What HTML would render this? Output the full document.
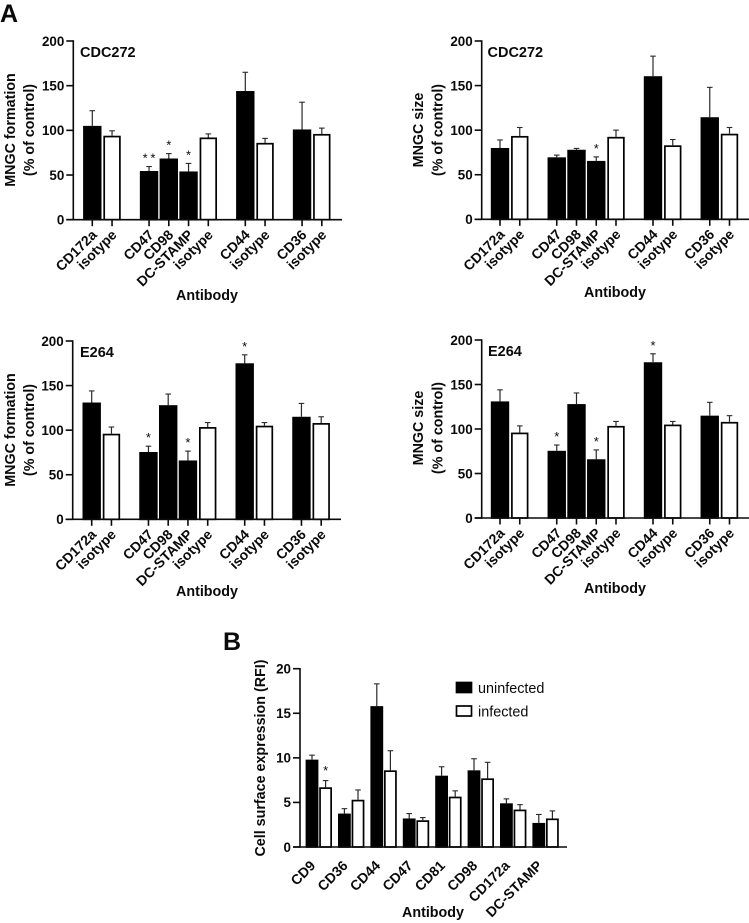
<!DOCTYPE html>
<html lang="en">
<head>
<meta charset="utf-8">
<title>MNGC formation and cell surface expression charts</title>
<style>
  html, body { margin: 0; padding: 0; background: #fff; }
  body { width: 749px; height: 923px; overflow: hidden; }
  svg { display: block; font-family: "Liberation Sans", Arial, sans-serif; }
  text { fill: #0a0a0a; }
  .tick { font-size: 13.4px; font-weight: bold; }
  .x-tick { font-size: 14px; font-weight: bold; }
  .axis-title { font-size: 14.3px; font-weight: bold; }
  .panel-title { font-size: 14.5px; font-weight: bold; }
  .panel-letter { font-size: 25px; font-weight: bold; }
  .star { font-size: 13px; }
  .legend-text { font-size: 14.4px; }
</style>
</head>
<body>
<svg id="figure" xmlns="http://www.w3.org/2000/svg" width="749" height="923" viewBox="0 0 749 923">
  <text class="panel-letter" x="0" y="22">A</text>
  <text class="panel-letter" x="223" y="650">B</text>
</svg>
<script>
const svgNS = 'http://www.w3.org/2000/svg';
const figure = document.getElementById('figure');

/* ---------- Panel A data ---------- */
const categoriesA = ['CD172a', 'isotype', 'CD47', 'CD98', 'DC-STAMP', 'isotype', 'CD44', 'isotype', 'CD36', 'isotype'];
const groupIndexA = [0, 0, 1, 1, 1, 1, 2, 2, 3, 3];
const yTicksA = [0, 50, 100, 150, 200];

const formationCdc272 = [105, 94, 54.5, 68.5, 54, 92, 144, 86, 101, 96];
const formationCdc272Err = [122, 99.5, 59.5, 74, 63, 96, 165, 91, 131.5, 102.5];
const formationCdc272Stars = ['', '', '**', '*', '*', '', '', '', '', ''];

const sizeCdc272 = [80, 93.5, 69.5, 78, 65.5, 92.5, 160.5, 83, 114.5, 96];
const sizeCdc272Err = [89, 103, 72, 79.5, 70, 100, 183, 89.5, 148, 103];
const sizeCdc272Stars = ['', '', '', '', '*', '', '', '', '', ''];

const formationE264 = [131, 96, 75.5, 128, 66, 103.5, 175, 105, 115, 108];
const formationE264Err = [144, 103.5, 82, 140.5, 76.5, 108.5, 184.5, 108.5, 130, 115];
const formationE264Stars = ['', '', '*', '', '*', '', '*', '', '', ''];

const sizeE264 = [131, 96, 75.5, 128, 66, 103.5, 175, 105, 115, 108];
const sizeE264Err = [144, 103.5, 82, 140.5, 76.5, 108.5, 184.5, 108.5, 130, 115];
const sizeE264Stars = ['', '', '*', '', '*', '', '*', '', '', ''];

/* ---------- Panel B data ---------- */
const categoriesB = ['CD9', 'CD36', 'CD44', 'CD47', 'CD81', 'CD98', 'CD172a', 'DC-STAMP'];
const yTicksB = [0, 5, 10, 15, 20];
const uninfected = [9.8, 3.75, 15.8, 3.2, 8, 8.6, 4.9, 2.7];
const uninfectedErr = [10.3, 4.3, 18.3, 3.75, 9, 9.9, 5.4, 3.65];
const infected = [6.7, 5.3, 8.6, 3, 5.65, 7.7, 4.2, 3.2];
const infectedErr = [7.45, 6.4, 10.8, 3.3, 6.3, 9.5, 4.75, 4.05];
const infectedStars = ['*', '', '', '', '', '', '', ''];
const legendLabels = ['uninfected', 'infected'];

/* ---------- Drawing primitives ---------- */
function svgEl(tag, attrs, parent, content) {
  const el = document.createElementNS(svgNS, tag);
  Object.keys(attrs).forEach(function (k) { el.setAttribute(k, attrs[k]); });
  if (content !== undefined) el.textContent = content;
  parent.appendChild(el);
  return el;
}

function drawAxes(g, frame, ticks, yScale) {
  const yAxis = svgEl('line', { x1: frame.axisX, x2: frame.axisX, y1: frame.yTop - 0.7, y2: frame.yBase + 0.7, stroke: '#0a0a0a', 'stroke-width': 1.6 }, g);
  
  
  const xAxis = svgEl('line', { x1: frame.axisX - 7, x2: frame.axisEnd, y1: frame.yBase, y2: frame.yBase, stroke: '#0a0a0a', 'stroke-width': 1.6 }, g);
  
  
  ticks.forEach(function (t) {
    const y = yScale(t);
    const mark = svgEl('line', { x1: frame.axisX - 7, x2: frame.axisX, y1: y, y2: y, stroke: '#0a0a0a', 'stroke-width': 1.6 }, g);
    
    
    const label = svgEl('text', { class: 'tick', x: frame.axisX - 9, y: y + 4.8, 'text-anchor': 'end' }, g, String(t));
    
    
  });
}

function drawBar(g, cx, width, value, errTop, filled, yScale, frame, name) {
  const stem = svgEl('line', { x1: cx, x2: cx, y1: yScale(value), y2: yScale(errTop), stroke: '#2a2a2a', 'stroke-width': 1.2 }, g);
  
  
  const cap = svgEl('line', { x1: cx - 2.8, x2: cx + 2.8, y1: yScale(errTop), y2: yScale(errTop), stroke: '#2a2a2a', 'stroke-width': 1.1 }, g);
  
  
  const sw = 1.7;
  const top = yScale(value) + sw / 2;
  const rect = svgEl('rect', {
    x: cx - width / 2 + sw / 2,
    y: top,
    width: width - sw,
    height: frame.yBase - top,
    fill: filled ? '#000' : '#fff',
    stroke: '#000',
    'stroke-width': sw
  }, g);
  
  
}

function drawStar(g, cx, errTop, star, yScale, lift) {
  if (!star) return;
  const text = svgEl('text', { class: 'star', x: cx, y: yScale(errTop) - lift, 'text-anchor': 'middle' }, g, star.split('').join('\u2009'));
  
  
}

function drawXTickMark(g, cx, frame) {
  const mark = svgEl('line', { x1: cx, x2: cx, y1: frame.yBase, y2: frame.yBase + 6.5, stroke: '#0a0a0a', 'stroke-width': 1.6 }, g);
  
  
}

function drawXLabel(g, cx, frame, label, dx, dy) {
  const ax = cx + dx;
  const ay = frame.yBase + dy;
  const text = svgEl('text', { class: 'x-tick', x: ax, y: ay, 'text-anchor': 'end', transform: 'rotate(-45 ' + ax + ' ' + ay + ')' }, g, label);
  
  
}

function drawYTitle(g, x, y, label, name) {
  const text = svgEl('text', { class: 'axis-title', x: x, y: y, 'text-anchor': 'middle', transform: 'rotate(-90 ' + x + ' ' + y + ')' }, g, label);
  
  
}

/* ---------- Panel A ---------- */
function drawPanelA(frame, values, errs, stars, yLine1, yLine2, title, key) {
  const g = svgEl('g', {}, figure);
  
  
  const yScale = function (v) { return frame.yBase - (v / 200) * (frame.yBase - frame.yTop); };
  const xScale = function (i) { return frame.axisX + frame.lead + 19.75 * i + 17.25 * groupIndexA[i]; };
  values.forEach(function (v, i) {
    const cx = xScale(i);
    const filled = categoriesA[i] !== 'isotype';
    drawBar(g, cx, filled ? 18.4 : 17.4, v, errs[i], filled, yScale, frame, key + '-' + categoriesA[i].toLowerCase());
    drawStar(g, cx, errs[i], stars[i], yScale, 4);
    drawXTickMark(g, cx, frame);
    drawXLabel(g, cx, frame, categoriesA[i], 5.5, 16);
  });
  drawAxes(g, frame, yTicksA, yScale);
  const t = svgEl('text', { class: 'panel-title', x: frame.titleX, y: frame.yTop + 16 }, g, title);
  
  
  drawYTitle(g, frame.yTitle1, frame.yTitleMid, yLine1, 'y-axis-title');
  drawYTitle(g, frame.yTitle2, frame.yTitleMid, yLine2, 'y-axis-subtitle');
  const xt = svgEl('text', { class: 'axis-title', x: frame.xTitleX, y: frame.xTitleY, 'text-anchor': 'middle' }, g, 'Antibody');
  
  
}

drawPanelA(
  { axisX: 73.3, axisEnd: 342, yTop: 41, yBase: 219.7, lead: 19, titleX: 80, yTitle1: 15, yTitle2: 34, yTitleMid: 130, xTitleX: 207, xTitleY: 300 },
  formationCdc272, formationCdc272Err, formationCdc272Stars, 'MNGC formation', '(% of control)', 'CDC272', 'formation-cdc272');
drawPanelA(
  { axisX: 481.7, axisEnd: 749, yTop: 41, yBase: 219.3, lead: 18.3, titleX: 487.5, yTitle1: 423, yTitle2: 442.5, yTitleMid: 130, xTitleX: 615, xTitleY: 297 },
  sizeCdc272, sizeCdc272Err, sizeCdc272Stars, 'MNGC size', '(% of control)', 'CDC272', 'size-cdc272');
drawPanelA(
  { axisX: 72.7, axisEnd: 341, yTop: 341, yBase: 519.3, lead: 19, titleX: 80, yTitle1: 15, yTitle2: 34, yTitleMid: 430, xTitleX: 207, xTitleY: 596 },
  formationE264, formationE264Err, formationE264Stars, 'MNGC formation', '(% of control)', 'E264', 'formation-e264');
drawPanelA(
  { axisX: 481.7, axisEnd: 749, yTop: 340, yBase: 518, lead: 18.3, titleX: 488, yTitle1: 423, yTitle2: 442.5, yTitleMid: 428, xTitleX: 615, xTitleY: 593 },
  sizeE264, sizeE264Err, sizeE264Stars, 'MNGC size', '(% of control)', 'E264', 'size-e264');

/* ---------- Panel B ---------- */
(function () {
  const frame = { axisX: 300, axisEnd: 567, yTop: 668.7, yBase: 847 };
  const g = svgEl('g', {}, figure);
  
  
  const yScale = function (v) { return frame.yBase - (v / 20) * (frame.yBase - frame.yTop); };
  const groupX = function (i) { return 318.8 + 32.4 * i; };
  categoriesB.forEach(function (cat, i) {
    const cx = groupX(i);
    drawBar(g, cx - 6.8, 12.8, uninfected[i], uninfectedErr[i], true, yScale, frame, cat.toLowerCase() + '-uninfected');
    drawBar(g, cx + 6.8, 12.8, infected[i], infectedErr[i], false, yScale, frame, cat.toLowerCase() + '-infected');
    drawStar(g, cx + 6.8, infectedErr[i], infectedStars[i], yScale, 5.5);
    drawXLabel(g, cx, frame, cat, -2.5, 19.5);
  });
  drawAxes(g, frame, yTicksB, yScale);
  drawYTitle(g, 265, 758, 'Cell surface expression (RFI)', 'y-axis-title');
  const xt = svgEl('text', { class: 'axis-title', x: 433, y: 917, 'text-anchor': 'middle' }, g, 'Antibody');
  
  

  legendLabels.forEach(function (label, i) {
    const top = 682.5 + i * 23.5;
    const swatch = svgEl('rect', { x: 456.5, y: top, width: 15, height: 10, fill: i === 0 ? '#000' : '#fff', stroke: '#000', 'stroke-width': 1.7 }, g);
    
    
    const text = svgEl('text', { class: 'legend-text', x: 478, y: top + 10.5 }, g, label);
    
    
  });
})();
</script>
</body>
</html>
